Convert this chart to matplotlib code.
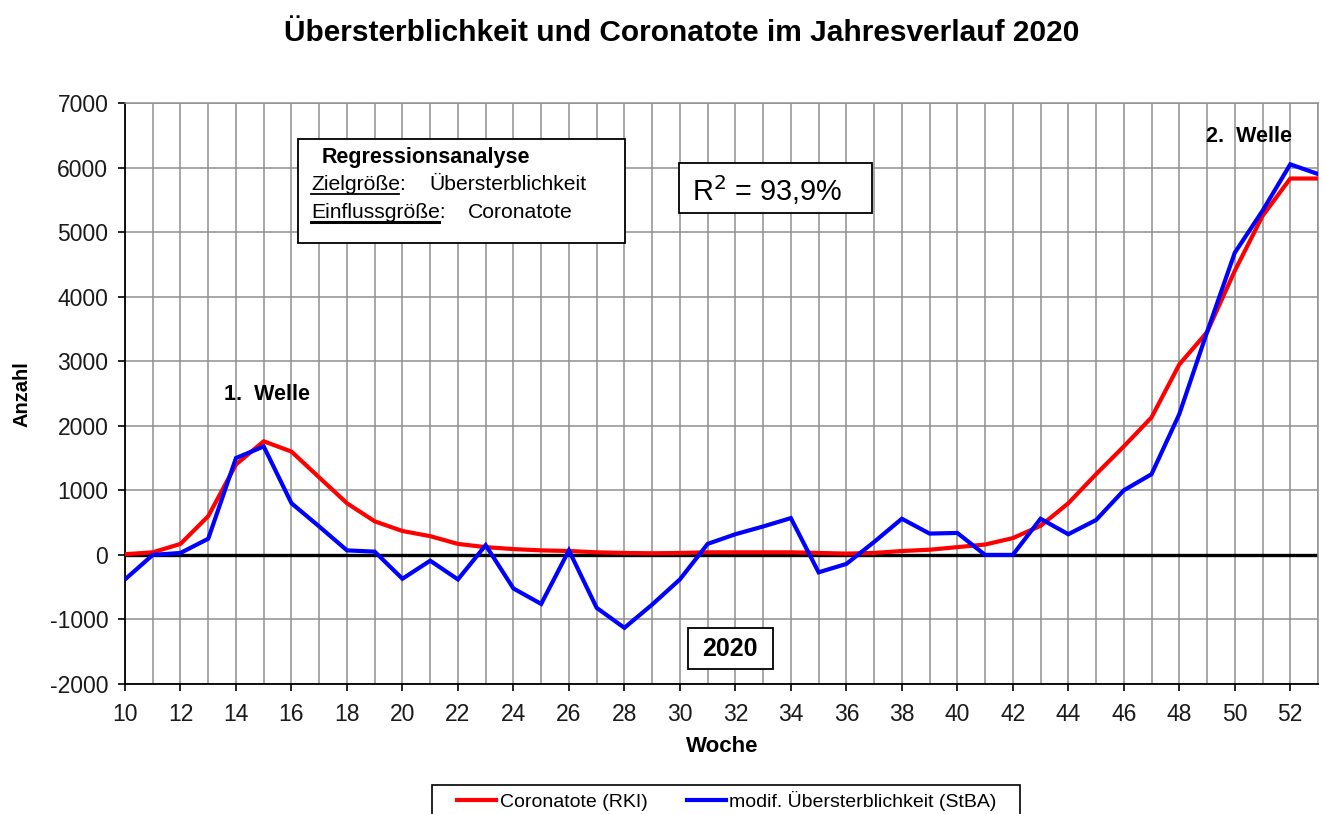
import matplotlib
matplotlib.use("Agg")
import matplotlib.pyplot as plt
from matplotlib.patches import Rectangle
from matplotlib.lines import Line2D

plt.rcParams['font.family'] = ['Liberation Sans', 'DejaVu Sans']

# Kalenderwochen 10..53
weeks = list(range(10, 54))

# Coronatote (RKI)
corona = [10, 40, 170, 600, 1400, 1760, 1600, 1200, 800, 520,
          370, 290, 170, 120, 90, 70, 60, 40, 30, 25,
          30, 40, 40, 40, 40, 30, 20, 30, 60, 80,
          120, 160, 260, 450, 800, 1250, 1680, 2130, 2950, 3450,
          4400, 5250, 5830, 5830]

# modif. Übersterblichkeit (StBA)
uebersterb = [-380, 0, 30, 250, 1500, 1680, 800, 440, 70, 50,
              -370, -90, -380, 150, -520, -760, 70, -820, -1130, -770,
              -380, 170, 320, 440, 570, -270, -140, 200, 560, 330,
              340, 0, 0, 560, 320, 540, 1000, 1250, 2180, 3450,
              4680, 5330, 6050, 5900]

x_ticks = list(range(10, 54, 2))
y_ticks = list(range(-2000, 7001, 1000))

W, H = 1324, 814
fig = plt.figure(figsize=(W / 100, H / 100), dpi=100)
ax = fig.add_axes([125 / W, 1 - 684 / H, (1318 - 125) / W, (684 - 103) / H])


def fx(px):
    return px / W


def fy(py):
    return 1 - py / H


# grid
ax.set_xlim(10, 53)
ax.set_ylim(-2000, 7000)
ax.set_xticks(x_ticks)
ax.set_xticks(weeks, minor=True)
ax.set_yticks(y_ticks)
ax.grid(True, which='both', color='#909090', linewidth=1.1)
ax.set_axisbelow(True)
ax.tick_params(axis='both', which='major', direction='out', length=5,
               width=1.2, labelsize=16.5, colors='black', labelcolor='#1a1a1a')
ax.tick_params(axis='x', which='major', pad=9)
ax.tick_params(axis='y', which='major', pad=7)
ax.tick_params(axis='x', which='minor', length=0)
ax.set_yticklabels([str(v) for v in y_ticks])
for side in ['top', 'right']:
    ax.spines[side].set_color('#909090')
    ax.spines[side].set_linewidth(1.1)
for side in ['left', 'bottom']:
    ax.spines[side].set_color('black')
    ax.spines[side].set_linewidth(1.3)

ax.axhline(0, color='black', linewidth=2.4, zorder=2)

ax.plot(weeks, corona, color='#ff0000', linewidth=3.0, zorder=3,
        label='Coronatote (RKI)', solid_joinstyle='round')
ax.plot(weeks, uebersterb, color='#0000ff', linewidth=3.0, zorder=4,
        label='modif. Übersterblichkeit (StBA)', solid_joinstyle='miter')

fig.text(fx(722), fy(746), 'Woche', fontsize=16, fontweight='bold',
         ha='center', va='center')
fig.text(fx(22), fy(394), 'Anzahl', rotation=90, fontsize=14.5,
         fontweight='bold', ha='center', va='center')

fig.text(fx(682), fy(33), 'Übersterblichkeit und Coronatote im Jahresverlauf 2020',
         fontsize=21.5, fontweight='bold', ha='center', va='center')

# Wellen
fig.text(fx(224), fy(395), '1.  Welle', fontsize=15.5, fontweight='bold',
         ha='left', va='center')
fig.text(fx(1206), fy(136), '2.  Welle', fontsize=15.5, fontweight='bold',
         ha='left', va='center')

# Regressions-Box
fig.patches.append(Rectangle((fx(298), fy(243)), fx(625 - 298), (243 - 139) / H,
                             transform=fig.transFigure, facecolor='white',
                             edgecolor='black', linewidth=1.3, zorder=5))
fig.text(fx(322), fy(158), 'Regressionsanalyse', fontsize=15.5, fontweight='bold',
         ha='left', va='center', zorder=6)
t1 = fig.text(fx(311), fy(185), 'Zielgröße:', fontsize=15.2, ha='left',
              va='center', zorder=6)
fig.text(fx(429), fy(185), 'Übersterblichkeit', fontsize=15.2, ha='left',
         va='center', zorder=6)
t2 = fig.text(fx(311), fy(213), 'Einflussgröße:', fontsize=15.2, ha='left',
              va='center', zorder=6)
fig.text(fx(468), fy(213), 'Coronatote', fontsize=15.2, ha='left',
         va='center', zorder=6)

# R^2 box
fig.patches.append(Rectangle((fx(679), fy(213)), fx(872 - 679), (213 - 163) / H,
                             transform=fig.transFigure, facecolor='white',
                             edgecolor='black', linewidth=1.3, zorder=5))
fig.text(fx(692), fy(190), r'R$^2$ = 93,9%', fontsize=20.8, ha='left',
         va='center', zorder=6)

# 2020 box
fig.patches.append(Rectangle((fx(688), fy(669)), fx(773 - 688), (669 - 628) / H,
                             transform=fig.transFigure, facecolor='white',
                             edgecolor='black', linewidth=1.3, zorder=5))
fig.text(fx(730), fy(649), '2020', fontsize=18, fontweight='bold',
         ha='center', va='center', zorder=6)

# underline the two labels (without the colon)
fig.canvas.draw()
renderer = fig.canvas.get_renderer()
for t, lw in [(t1, 1.3), (t2, 2.2)]:
    bb = t.get_window_extent(renderer)
    yline = bb.y0 + 1
    fig.add_artist(Line2D([bb.x0 / W, (bb.x1 - 7) / W], [yline / H, yline / H],
                          transform=fig.transFigure, color='black',
                          linewidth=lw, zorder=7))

# legend: frame drawn by hand (wide side padding, runs off the bottom edge)
fig.patches.append(Rectangle((fx(432), fy(840)), fx(1020 - 432), (840 - 785) / H,
                             transform=fig.transFigure, facecolor='white',
                             edgecolor='black', linewidth=1.2, zorder=1))
leg = fig.legend(loc='upper center', bbox_to_anchor=(fx(727), fy(785)), ncol=2,
                 fontsize=14, frameon=False, handlelength=2.0, handletextpad=0.2,
                 columnspacing=2.0, borderpad=0.3, borderaxespad=0)

fig.savefig('out.png', dpi=100, facecolor='white')
